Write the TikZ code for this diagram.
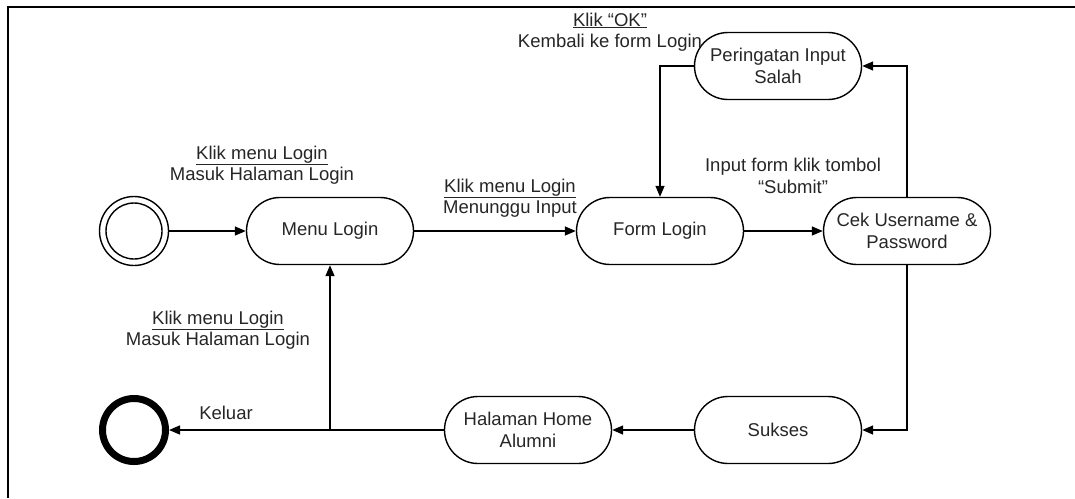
\documentclass[tikz,border=0pt]{standalone}
\usepackage{fontspec}
\setmainfont{Liberation Sans}
\usetikzlibrary{arrows.meta,calc}

\begin{document}
\begin{tikzpicture}[x=1pt,y=-1pt,line width=1.4pt,
    every node/.style={font=\fontsize{18.5}{21.5}\selectfont,text=black!85},
    state/.style={draw,rounded corners=33.5pt,minimum width=167pt,minimum height=67pt,align=center,inner sep=2pt},
    lbl/.style={align=center,inner sep=0pt},
    flow/.style={-{Triangle[length=11pt,width=9pt]}}]
      \useasboundingbox (0,0) rectangle (1075,498);
      \draw[line width=1.6pt] (8,498) -- (8,7) -- (1075,7);

      \node[draw,circle,minimum size=69pt] (start) at (134,231) {};
      \node[draw,circle,minimum size=56pt] (startin) at (134,231) {};
      \node[draw,circle,line width=7pt,minimum size=63pt] (end) at (134,430) {};

      \node[state] (menu) at (330,231) {Menu Login};
      \node[state] (form) at (660,231) {Form Login};
      \node[state] (cek) at (907,231) {Cek Username \&\\Password};
      \node[state] (warn) at (778,66) {Peringatan Input\\Salah};
      \node[state] (sukses) at (778,430) {Sukses};
      \node[state] (home) at (528,430) {Halaman Home\\Alumni};
      \coordinate (junc) at (menu |- home);

      \node[lbl] (l1) at (262,165) {\underline{Klik menu Login}\\Masuk Halaman Login};
      \node[lbl] (l2) at (510,198) {\underline{Klik menu Login}\\Menunggu Input};
      \node[lbl] (l3) at (610,32) {\underline{Klik ``OK''}\\Kembali ke form Login};
      \node[lbl] (l4) at (793,176) {Input form klik tombol\\``Submit''};
      \node[lbl] (l5) at (218,330) {\underline{Klik menu Login}\\Masuk Halaman Login};
      \node[lbl] (l6) at (226,413) {Keluar};

      \draw[flow] (start) -- (menu);
      \draw[flow] (menu) -- (form);
      \draw[flow] (form) -- (cek);
      \draw[flow] (cek.north) |- (warn.east);
      \draw[flow] (warn.west) -| (form.north);
      \draw[flow] (cek.south) |- (sukses.east);
      \draw[flow] (sukses) -- (home);
      \draw[flow] (home) -- (end);
      \draw[flow] (junc) -- (menu.south);
    \end{tikzpicture}
\end{document}
